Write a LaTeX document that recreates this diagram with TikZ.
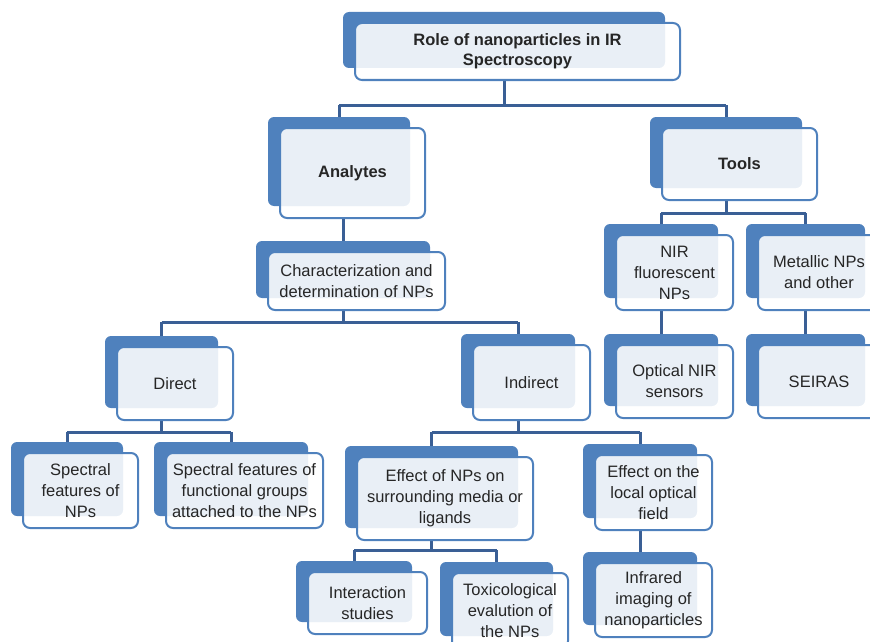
\documentclass[tikz,border=0pt]{standalone}
\usepackage{fontspec}
\setmainfont{Liberation Sans}
\usetikzlibrary{backgrounds}
\definecolor{boxblue}{HTML}{4F81BD}
\definecolor{linkblue}{HTML}{3A5F95}
\definecolor{txt}{HTML}{262626}

\tikzset{
  backbox/.style={fill=boxblue, rounded corners=6pt, inner sep=0pt, outer sep=0pt},
  frontbox/.style={draw=boxblue, line width=2pt, rounded corners=7pt, fill=white,
    fill opacity=0.88, text opacity=1, text=txt, align=center, inner sep=2pt,
    outer sep=0pt, font=\fontsize{16.5}{21}\selectfont},
  heading/.style={font=\fontsize{16.5}{20}\selectfont\bfseries},
  link/.style={draw=linkblue, line width=3pt},
}

% A two-layer box: a solid blue tab behind, a light framed card in front.
% #1 name, #2-#5 card corners (x1,y1,x2,y2), #6 extra style, #7 text
\newcommand\tbox[7]{%
  \node[backbox, anchor=north west, minimum width={#4-#2-3}, minimum height={#5-#3-1}]
    (#1) at ({#2-12},{#3-11}) {};
  \node[frontbox, #6, anchor=north west, minimum width={#4-#2}, minimum height={#5-#3}]
    (#1-f) at (#2,#3) {#7};
}

\begin{document}
\begin{tikzpicture}[x=1pt, y=-1pt]
\useasboundingbox (0,0) rectangle (870,642);

% bus levels
\coordinate (busA) at (0,105);
\coordinate (busB) at (0,213);
\coordinate (busC) at (0,322);
\coordinate (busD) at (0,432);
\coordinate (busE) at (0,550);

\tbox{top}{355}{23}{680}{80}{heading}{Role of nanoparticles in IR\\Spectroscopy}
\tbox{ana}{280}{128}{425}{218}{heading}{Analytes}
\tbox{tools}{662}{128}{817}{200}{heading}{Tools}
\tbox{char}{268}{252}{445}{310}{}{Characterization and\\determination of NPs}
\tbox{nir}{616}{235}{733}{310}{}{NIR\\fluorescent\\NPs}
\tbox{metal}{758}{235}{880}{310}{}{Metallic NPs\\and other}
\tbox{direct}{117}{347}{233}{420}{}{Direct}
\tbox{indirect}{473}{345}{590}{420}{}{Indirect}
\tbox{optical}{616}{345}{733}{418}{}{Optical NIR\\sensors}
\tbox{seiras}{758}{345}{880}{418}{}{SEIRAS}
\tbox{specnp}{23}{453}{138}{528}{}{Spectral\\features of\\NPs}
\tbox{specfg}{166}{453}{323}{528}{}{Spectral features of\\functional groups\\attached to the NPs}
\tbox{effnp}{357}{457}{533}{540}{}{Effect of NPs on\\surrounding media or\\ligands}
\tbox{efflo}{595}{455}{712}{530}{}{Effect on the\\local optical\\field}
\tbox{inter}{308}{572}{427}{634}{}{Interaction\\studies}
\tbox{tox}{452}{573}{568}{648}{}{Toxicological\\evalution of\\the NPs}
\tbox{infra}{595}{563}{712}{637}{}{Infrared\\imaging of\\nanoparticles}

% connectors, kept behind the cards
\begin{scope}[on background layer]
\draw[link] (top.center |- top-f.south) -- (top.center |- busA);
\draw[link] (ana.north |- busA) -- (tools.north |- busA);
\draw[link] (ana.north |- busA) -- (ana.north);
\draw[link] (tools.north |- busA) -- (tools.north);

\draw[link] (char.north |- ana-f.south) -- (char.north);

\draw[link] (tools.center |- tools-f.south) -- (tools.center |- busB);
\draw[link] (nir.north |- busB) -- (metal.north |- busB);
\draw[link] (nir.north |- busB) -- (nir.north);
\draw[link] (metal.north |- busB) -- (metal.north);

\draw[link] (nir.center |- nir-f.south) -- (optical.north);
\draw[link] (metal.center |- metal-f.south) -- (seiras.north);

\draw[link] (char.center |- char-f.south) -- (char.center |- busC);
\draw[link] (direct.north |- busC) -- (indirect.north |- busC);
\draw[link] (direct.north |- busC) -- (direct.north);
\draw[link] (indirect.north |- busC) -- (indirect.north);

\draw[link] (direct.center |- direct-f.south) -- (direct.center |- busD);
\draw[link] (specnp.north |- busD) -- (specfg.north |- busD);
\draw[link] (specnp.north |- busD) -- (specnp.north);
\draw[link] (specfg.north |- busD) -- (specfg.north);

\draw[link] (indirect.center |- indirect-f.south) -- (indirect.center |- busD);
\draw[link] (effnp.north |- busD) -- (efflo.north |- busD);
\draw[link] (effnp.north |- busD) -- (effnp.north);
\draw[link] (efflo.north |- busD) -- (efflo.north);

\draw[link] (effnp.center |- effnp-f.south) -- (effnp.center |- busE);
\draw[link] (inter.north |- busE) -- (tox.north |- busE);
\draw[link] (inter.north |- busE) -- (inter.north);
\draw[link] (tox.north |- busE) -- (tox.north);

\draw[link] (efflo.center |- efflo-f.south) -- (infra.north);
\end{scope}
\end{tikzpicture}
\end{document}
